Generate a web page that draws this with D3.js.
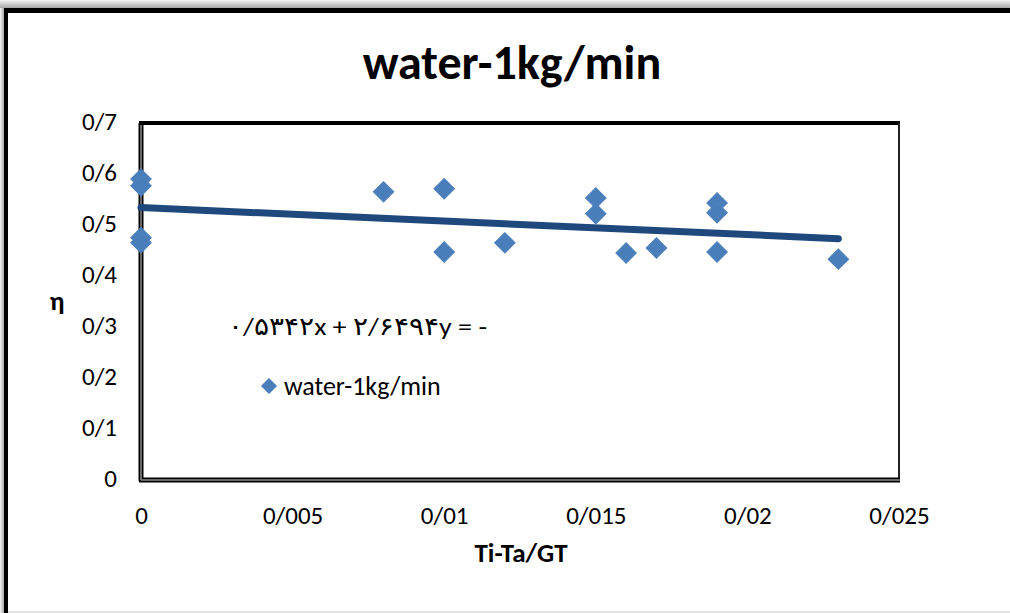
<!DOCTYPE html>
<html lang="en">
  <head>
    <meta charset="utf-8">
    <title>water-1kg/min</title>
    <script src="https://d3js.org/d3.v7.min.js"></script>
    <style>
      body { margin: 0; background: #fff; }
      text { font-family: Carlito, Calibri, Lato, "DejaVu Sans", sans-serif; fill: #000; }
    </style>
  </head>
  <body>
    <script>
  var w = 1010;
  var h = 613;

  // data
  var xValues = [0, 0, 0, 0, 0.008, 0.01, 0.01, 0.012, 0.015, 0.015, 0.016, 0.017, 0.019, 0.019, 0.019, 0.023];
  var yValues = [0.59, 0.577, 0.475, 0.465, 0.565, 0.571, 0.447, 0.465, 0.553, 0.522, 0.445, 0.455, 0.543, 0.524, 0.447, 0.433];

  // trendline from the equation shown on the chart
  var slope = -2.6494;
  var intercept = 0.5342;

  var xTicks = [0, 0.005, 0.01, 0.015, 0.02, 0.025];
  var xTickLabels = ["0", "0/005", "0/01", "0/015", "0/02", "0/025"];
  var yTicks = [0, 0.1, 0.2, 0.3, 0.4, 0.5, 0.6, 0.7];
  var yTickLabels = ["0", "0/1", "0/2", "0/3", "0/4", "0/5", "0/6", "0/7"];

  var title = "water-1kg/min";
  var seriesName = "water-1kg/min";
  var xTitle = "Ti-Ta/GT";
  var yTitle = "η";
  var equation = "\u202D۰/۵۳۴۲x + ۲/۶۴۹۴y = -\u202C";

  var points = xValues.map(function (d, i) { return {x: d, y: yValues[i]}; });

  var plot = {left: 141, top: 123, right: 899, bottom: 480};

  var xScale = d3.scaleLinear().domain([0, 0.025]).range([plot.left, plot.right]);
  var yScale = d3.scaleLinear().domain([0, 0.7]).range([plot.bottom, plot.top]);

  var svg = d3.select("body")
    .append("svg")
    .attr("width", w)
    .attr("height", h);

  // frame shadow
  var defs = svg.append("defs");
  var gTop = defs.append("linearGradient").attr("id", "shTop").attr("x1", 0).attr("y1", 0).attr("x2", 0).attr("y2", 1);
  gTop.append("stop").attr("offset", "0%").attr("stop-color", "#f4f4f4");
  gTop.append("stop").attr("offset", "100%").attr("stop-color", "#a8a8a8");
  var gLeft = defs.append("linearGradient").attr("id", "shLeft").attr("x1", 0).attr("y1", 0).attr("x2", 1).attr("y2", 0);
  gLeft.append("stop").attr("offset", "0%").attr("stop-color", "#f4f4f4");
  gLeft.append("stop").attr("offset", "100%").attr("stop-color", "#a8a8a8");

  svg.append("rect").attr("x", 0).attr("y", 0).attr("width", w).attr("height", 8).attr("fill", "url(#shTop)");
  svg.append("rect").attr("x", 0).attr("y", 8).attr("width", 4).attr("height", h - 8).attr("fill", "url(#shLeft)");
  svg.append("rect").attr("x", 4).attr("y", 8).attr("width", w - 4).attr("height", 5).attr("fill", "#000");
  svg.append("rect").attr("x", 4).attr("y", 8).attr("width", 4).attr("height", h - 8).attr("fill", "#000");
  svg.append("rect").attr("x", 8).attr("y", 611).attr("width", w - 8).attr("height", 2).attr("fill", "#e4e4e4");

  // title
  svg.append("text")
    .attr("x", 512)
    .attr("y", 79)
    .attr("text-anchor", "middle")
    .style("font-size", "48px")
    .style("font-weight", "bold")
    .text(title);

  // plot area border
  var border = svg.append("g");
  border.append("line").attr("x1", plot.left - 2).attr("x2", plot.right + 1).attr("y1", plot.top).attr("y2", plot.top)
    .attr("stroke", "#000").attr("stroke-width", 4);
  border.append("line").attr("x1", plot.right).attr("x2", plot.right).attr("y1", plot.top).attr("y2", plot.bottom)
    .attr("stroke", "#222").attr("stroke-width", 2);
  border.append("line").attr("x1", plot.left).attr("x2", plot.left).attr("y1", plot.top).attr("y2", plot.bottom + 1)
    .attr("stroke", "#000").attr("stroke-width", 5);
  border.append("line").attr("x1", plot.left - 2).attr("x2", plot.right + 1).attr("y1", plot.bottom).attr("y2", plot.bottom)
    .attr("stroke", "#000").attr("stroke-width", 5);
  border.append("line").attr("x1", plot.left).attr("x2", plot.left).attr("y1", plot.top + 2).attr("y2", plot.bottom)
    .attr("stroke", "#8a8a8a").attr("stroke-width", 1.5);
  border.append("line").attr("x1", plot.left).attr("x2", plot.right + 1).attr("y1", plot.bottom).attr("y2", plot.bottom)
    .attr("stroke", "#8a8a8a").attr("stroke-width", 1.5);

  // axes
  var xAxis = d3.axisBottom(xScale)
    .tickValues(xTicks)
    .tickSize(0)
    .tickPadding(0)
    .tickFormat(function (d, i) { return xTickLabels[i]; });

  var yAxis = d3.axisLeft(yScale)
    .tickValues(yTicks)
    .tickSize(0)
    .tickPadding(0)
    .tickFormat(function (d, i) { return yTickLabels[i]; });

  var gx = svg.append("g").attr("transform", "translate(0," + (plot.bottom + 35) + ")").call(xAxis);
  gx.select(".domain").remove();
  gx.selectAll("text").style("font-size", "25px").attr("dy", "0.36em").attr("fill", "#000");

  var gy = svg.append("g").attr("transform", "translate(" + (plot.left - 24) + ",0)").call(yAxis);
  gy.select(".domain").remove();
  gy.selectAll("text").style("font-size", "25px").attr("dy", "0.24em").attr("fill", "#000");

  svg.append("text")
    .attr("x", 521)
    .attr("y", 562)
    .attr("text-anchor", "middle")
    .style("font-size", "27px")
    .style("font-weight", "bold")
    .text(xTitle);

  svg.append("text")
    .attr("x", 57)
    .attr("y", 310)
    .attr("text-anchor", "middle")
    .style("font-size", "27px")
    .style("font-weight", "bold")
    .text(yTitle);

  // trendline
  var xExt = d3.extent(xValues);
  svg.append("line")
    .attr("x1", xScale(xExt[0]))
    .attr("y1", yScale(intercept + slope * xExt[0]))
    .attr("x2", xScale(xExt[1]))
    .attr("y2", yScale(intercept + slope * xExt[1]))
    .attr("stroke", "#1f497d")
    .attr("stroke-width", 7)
    .attr("stroke-linecap", "round");

  // markers
  var diamond = d3.symbol().type(d3.symbolSquare).size(210);
  svg.append("g")
    .selectAll("path")
    .data(points)
    .enter()
    .append("path")
    .attr("d", diamond)
    .attr("transform", function (d) { return "translate(" + xScale(d.x) + "," + yScale(d.y) + ") rotate(45)"; })
    .attr("fill", "#4a7ebb")
    .attr("stroke", "#4f81bd")
    .attr("stroke-width", 1);

  // equation label
  svg.append("text")
    .attr("x", 228)
    .attr("y", 335)
    .attr("textLength", 259)
    .attr("lengthAdjust", "spacingAndGlyphs")
    .style("font-size", "25px")
    .text(equation);

  // legend
  svg.append("path")
    .attr("d", d3.symbol().type(d3.symbolSquare).size(130))
    .attr("transform", "translate(269,386) rotate(45)")
    .attr("fill", "#4a7ebb");
  svg.append("text")
    .attr("x", 284)
    .attr("y", 395)
    .style("font-size", "26px")
    .text(seriesName);
    </script>
  </body>
</html>
